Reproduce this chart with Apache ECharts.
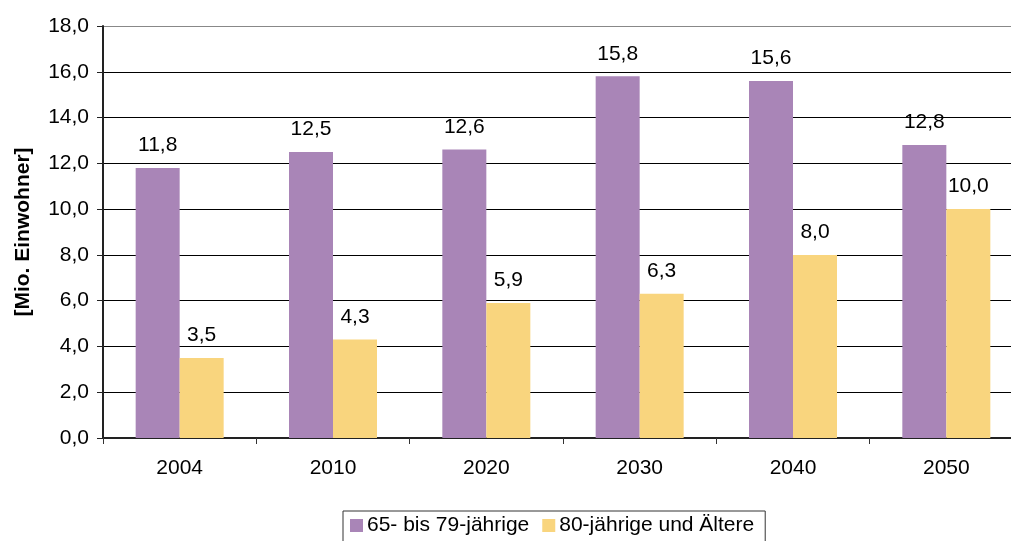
<!DOCTYPE html>
<html>
<head>
<meta charset="utf-8">
<script src="https://cdn.jsdelivr.net/npm/echarts@6/dist/echarts.min.js"></script>
<style>
html,body{margin:0;padding:0;background:#fff;overflow:hidden;}
/* plot area runs slightly past the right edge of the window */
#chart{width:1024px;height:541px;}
</style>
</head>
<body>
<div id="chart"></div>
<script>
// Bevölkerung nach Altersgruppen, in Millionen
const years = ['2004', '2010', '2020', '2030', '2040', '2050'];
const age65to79 = [11.8, 12.5, 12.6, 15.8, 15.6, 12.8];
const age80plus = [3.5, 4.3, 5.9, 6.3, 8.0, 10.0];
const seriesNames = ['65- bis 79-jährige', '80-jährige und Ältere'];
const yTicks = { min: 0, max: 18, interval: 2 };

const fmt = v => Number(v).toFixed(1).replace('.', ',');
const FONT = 'Liberation Sans, Arial, sans-serif';
const FS = 21;

const chart = echarts.init(document.getElementById('chart'), null, { renderer: 'canvas' });

const labelStyle = {
  show: true,
  position: 'top',
  distance: 12,
  color: '#000',
  fontFamily: FONT,
  fontSize: FS,
  formatter: p => fmt(p.value)
};

chart.setOption({
  animation: false,
  backgroundColor: '#fff',
  grid: { left: 103, right: 1, top: 26, bottom: 103, containLabel: false },
  legend: {
    data: seriesNames,
    left: 343,
    top: 511,
    padding: [4, 11, 8, 7],
    borderColor: '#333',
    borderWidth: 1,
    itemWidth: 13,
    itemHeight: 13,
    itemGap: 13,
    icon: 'rect',
    textStyle: { fontFamily: FONT, fontSize: FS, color: '#000', padding: [0, 0, 0, -1] }
  },
  xAxis: {
    type: 'category',
    data: years,
    boundaryGap: true,
    axisLine: { lineStyle: { color: '#222', width: 2 } },
    axisTick: { show: true, length: 6, lineStyle: { color: '#333', width: 1 } },
    axisLabel: { color: '#000', fontFamily: FONT, fontSize: FS, margin: 20 }
  },
  yAxis: {
    type: 'value',
    min: yTicks.min,
    max: yTicks.max,
    interval: yTicks.interval,
    name: '[Mio. Einwohner]',
    nameLocation: 'middle',
    nameGap: 69,
    nameRotate: 90,
    nameTextStyle: { fontFamily: FONT, fontSize: FS, fontWeight: 'bold', color: '#000' },
    axisLine: { show: true, lineStyle: { color: '#222', width: 2 } },
    axisTick: { show: true, length: 6, lineStyle: { color: '#222' } },
    axisLabel: { color: '#000', fontFamily: FONT, fontSize: FS, margin: 14, formatter: v => fmt(v) },
    splitLine: {
      show: true,
      lineStyle: {
        color: ['#000', '#000', '#000', '#000', '#000', '#000', '#000', '#000', '#000', '#888'],
        width: 1
      }
    }
  },
  series: [
    {
      name: seriesNames[0],
      type: 'bar',
      data: age65to79,
      barWidth: 44,
      barGap: '0%',
      itemStyle: { color: '#A985B7' },
      label: labelStyle
    },
    {
      name: seriesNames[1],
      type: 'bar',
      data: age80plus,
      barWidth: 44,
      barGap: '0%',
      itemStyle: { color: '#F9D57E' },
      label: labelStyle
    }
  ]
});
</script>
</body>
</html>
